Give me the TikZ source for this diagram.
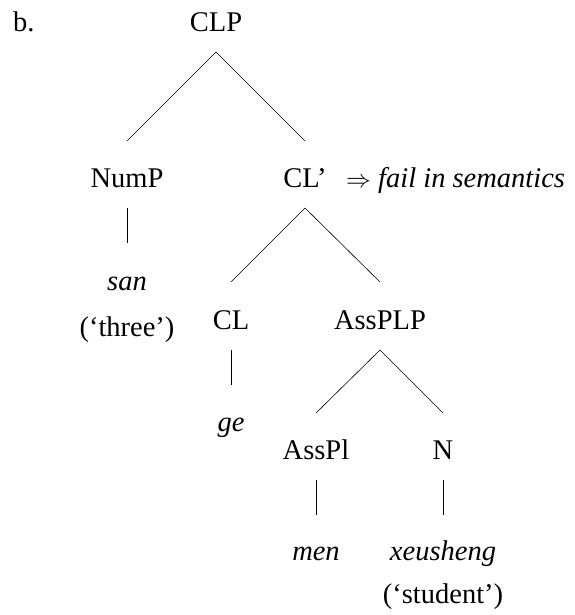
\documentclass[tikz,border=0pt]{standalone}
\usepackage{fontspec}
\setmainfont{Liberation Serif}
\usetikzlibrary{calc}
\tikzset{
  lbl/.style={font=\fontsize{28.5}{34}\selectfont, inner sep=0pt, anchor=base},
  branch/.style={line width=0.6pt, black},
}
\begin{document}
\begin{tikzpicture}[x=1pt,y=-1pt]
\useasboundingbox (0,0) rectangle (574,615);
\node[lbl, anchor=base west] (b) at (13,32) {b.};
\node[lbl] (CLP) at (216,32) {CLP};
\node[lbl] (NumP) at (127,187) {NumP};
\node[lbl] (CLbar) at (305,187) {CL’};
\node[lbl, anchor=base west] (fail) at (346,187) {$\Rightarrow$ \textit{fail in semantics}};
\node[lbl] (san) at (127,290) {\textit{san}};
\node[lbl] (three) at (127,336) {(‘three’)};
\node[lbl] (CL) at (231,329) {CL};
\node[lbl] (AssPLP) at (380,329) {AssPLP};
\node[lbl] (ge) at (231,431) {\textit{ge}};
\node[lbl] (AssPl) at (316,459) {AssPl};
\node[lbl] (N) at (443,459) {N};
\node[lbl] (men) at (316,560) {\textit{men}};
\node[lbl] (xeusheng) at (443,560) {\textit{xeusheng}};
\node[lbl] (student) at (443,603) {(‘student’)};
% branches
\draw[branch] ($(CLP.base)+(0,20)$) -- ($(NumP.base)+(0,-46)$);
\draw[branch] ($(CLP.base)+(0,20)$) -- ($(CLbar.base)+(0,-46)$);
\draw[branch] ($(NumP.base)+(0,21)$) -- ($(san.base)+(0,-47)$);
\draw[branch] ($(CLbar.base)+(0,21)$) -- ($(CL.base)+(0,-47)$);
\draw[branch] ($(CLbar.base)+(0,21)$) -- ($(AssPLP.base)+(0,-47)$);
\draw[branch] ($(CL.base)+(0,21)$) -- ($(ge.base)+(0,-46)$);
\draw[branch] ($(AssPLP.base)+(0,21)$) -- ($(AssPl.base)+(0,-46)$);
\draw[branch] ($(AssPLP.base)+(0,21)$) -- ($(N.base)+(0,-46)$);
\draw[branch] ($(AssPl.base)+(0,21)$) -- ($(men.base)+(0,-45)$);
\draw[branch] ($(N.base)+(0,21)$) -- ($(xeusheng.base)+(0,-45)$);
\end{tikzpicture}
\end{document}
